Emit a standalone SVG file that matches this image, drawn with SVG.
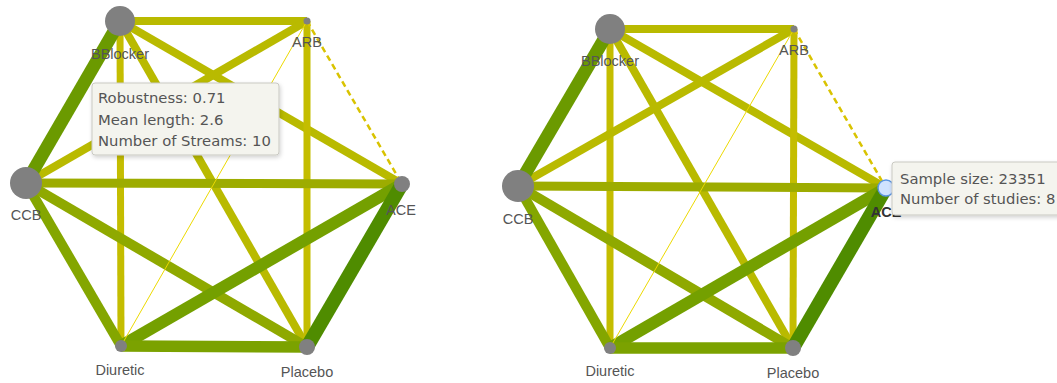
<svg xmlns="http://www.w3.org/2000/svg" width="1057" height="383" viewBox="0 0 1057 383">
  <style>
    .e { fill: none; stroke-linecap: butt; }
    .w1 { stroke: #4f8c00; stroke-width: 14; }
    .w2 { stroke: #6b9a00; stroke-width: 13; }
    .w3 { stroke: #74a000; stroke-width: 12; }
    .w4 { stroke: #7ba200; stroke-width: 11.5; }
    .w5 { stroke: #84a600; stroke-width: 10; }
    .w6 { stroke: #8fa900; stroke-width: 10; }
    .w7 { stroke: #9dac00; stroke-width: 9; }
    .w8 { stroke: #b9ba00; stroke-width: 8; }
    .w9 { stroke: #c4bd00; stroke-width: 7; }
    .thin { stroke: #ecd900; stroke-width: 1; }
    .dash { stroke: #d9c300; stroke-width: 2.5; stroke-dasharray: 6 4; }
    .node { fill: #808080; }
    .hl { fill: #cfe2ff; stroke: #5b95e0; stroke-width: 1.5; }
    .lbl { font-family: "Liberation Sans", Arial, sans-serif; font-size: 14.5px; fill: #555; text-anchor: middle; }
    .lblb { font-family: "Liberation Sans", Arial, sans-serif; font-size: 14.5px; font-weight: bold; fill: #333; text-anchor: middle; }
    .tip { fill: #f4f4ee; stroke: #c9c9c2; stroke-width: 1; }
    .tt { font-family: "DejaVu Sans", Verdana, sans-serif; font-size: 14.8px; fill: #555; }
  </style>
  <defs>
    <filter id="shadow" x="-10%" y="-20%" width="130%" height="150%">
      <feDropShadow dx="1" dy="2" stdDeviation="2" flood-color="#000" flood-opacity="0.18"/>
    </filter>
  </defs>

  <!-- left network: connectors -->
  <g id="left-edges">
    <line class="e w8" x1="120" y1="21" x2="307" y2="21"/>
    <line class="e w9" x1="120" y1="21" x2="121" y2="346"/>
    <line class="e w8" x1="120" y1="21" x2="307" y2="347"/>
    <line class="e w8" x1="120" y1="21" x2="402" y2="184"/>
    <line class="e w8" x1="307" y1="21" x2="26" y2="183"/>
    <line class="e w9" x1="307" y1="21" x2="307" y2="347"/>
    <line class="e w7" x1="26" y1="183" x2="402" y2="184"/>
    <line class="e w5" x1="26" y1="183" x2="121" y2="346"/>
    <line class="e w6" x1="26" y1="183" x2="307" y2="347"/>
    <line class="e w3" x1="402" y1="184" x2="121" y2="346"/>
    <line class="e w4" x1="121" y1="346" x2="307" y2="347"/>
    <line class="e w1" x1="402" y1="184" x2="307" y2="347"/>
    <line class="e w2" x1="120" y1="21" x2="26" y2="183"/>
    <line class="e thin" x1="307" y1="21" x2="121" y2="346"/>
    <line class="e dash" x1="307" y1="21" x2="402" y2="184"/>
  </g>

  <!-- left network: nodes -->
  <g id="left-BBlocker"><circle class="node" cx="120" cy="21" r="15"/><text class="lbl" x="120" y="59">BBlocker</text></g>
  <g id="left-ARB"><circle class="node" cx="307" cy="21" r="3.5"/><text class="lbl" x="307" y="47">ARB</text></g>
  <g id="left-CCB"><circle class="node" cx="26" cy="183" r="16"/><text class="lbl" x="26" y="220">CCB</text></g>
  <g id="left-ACE"><circle class="node" cx="402" cy="184" r="8"/><text class="lbl" x="401" y="215">ACE</text></g>
  <g id="left-Diuretic"><circle class="node" cx="121" cy="346" r="6"/><text class="lbl" x="120" y="375">Diuretic</text></g>
  <g id="left-Placebo"><circle class="node" cx="307" cy="347" r="8"/><text class="lbl" x="307" y="377">Placebo</text></g>

  <!-- edge tooltip -->
  <g id="left-tooltip">
    <rect class="tip" x="92" y="83" width="187" height="72" rx="3" filter="url(#shadow)"/>
    <text class="tt" x="98" y="103">Robustness: 0.71</text>
    <text class="tt" x="98" y="125">Mean length: 2.6</text>
    <text class="tt" x="98" y="146">Number of Streams: 10</text>
  </g>

  <!-- right network: connectors -->
  <g id="right-edges">
    <line class="e w8" x1="610" y1="29" x2="794" y2="29"/>
    <line class="e w9" x1="610" y1="29" x2="610" y2="348"/>
    <line class="e w8" x1="610" y1="29" x2="793" y2="348"/>
    <line class="e w8" x1="610" y1="29" x2="886" y2="188"/>
    <line class="e w8" x1="794" y1="29" x2="518" y2="186"/>
    <line class="e w9" x1="794" y1="29" x2="793" y2="348"/>
    <line class="e w7" x1="518" y1="186" x2="886" y2="188"/>
    <line class="e w5" x1="518" y1="186" x2="610" y2="348"/>
    <line class="e w6" x1="518" y1="186" x2="793" y2="348"/>
    <line class="e w3" x1="886" y1="188" x2="610" y2="348"/>
    <line class="e w4" x1="610" y1="348" x2="793" y2="348"/>
    <line class="e w1" x1="886" y1="188" x2="793" y2="348"/>
    <line class="e w2" x1="610" y1="29" x2="518" y2="186"/>
    <line class="e thin" x1="794" y1="29" x2="610" y2="348"/>
    <line class="e dash" x1="794" y1="29" x2="886" y2="188"/>
  </g>

  <!-- right network: nodes -->
  <g id="right-BBlocker"><circle class="node" cx="610" cy="29" r="15"/><text class="lbl" x="610" y="66">BBlocker</text></g>
  <g id="right-ARB"><circle class="node" cx="794" cy="29" r="3.5"/><text class="lbl" x="794" y="55">ARB</text></g>
  <g id="right-CCB"><circle class="node" cx="518" cy="186" r="16"/><text class="lbl" x="518" y="224">CCB</text></g>
  <g id="right-ACE"><circle class="hl" cx="886" cy="188" r="8"/><text class="lblb" x="886" y="217">ACE</text></g>
  <g id="right-Diuretic"><circle class="node" cx="610" cy="348" r="6"/><text class="lbl" x="610" y="376">Diuretic</text></g>
  <g id="right-Placebo"><circle class="node" cx="793" cy="348" r="8"/><text class="lbl" x="793" y="378">Placebo</text></g>

  <!-- node tooltip -->
  <g id="right-tooltip">
    <rect class="tip" x="892" y="162" width="175" height="53" rx="3" filter="url(#shadow)"/>
    <text class="tt" x="900" y="184">Sample size: 23351</text>
    <text class="tt" x="900" y="204">Number of studies: 8</text>
  </g>
</svg>
